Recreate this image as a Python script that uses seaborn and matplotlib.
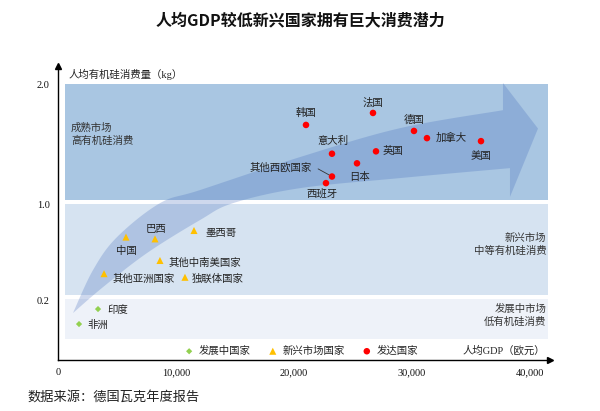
import numpy as np
import pandas as pd
import matplotlib
matplotlib.use("Agg")
import matplotlib.pyplot as plt
from matplotlib.patches import Polygon, Rectangle
import seaborn as sns

# ---------------- data ----------------
dev_names = ["印度", "非洲"]
dev_gdp = [3390, 1780]
dev_cons = [0.125, 0.0]

emg_names = ["中国", "巴西", "墨西哥", "其他中南美国家", "其他亚洲国家", "独联体国家"]
emg_gdp = [5760, 8220, 11525, 8640, 3900, 10760]
emg_cons = [0.725, 0.71, 0.78, 0.53, 0.42, 0.39]

adv_names = ["韩国", "法国", "德国", "加拿大", "美国", "意大利", "英国", "日本", "其他西欧国家", "西班牙"]
adv_gdp = [21017, 26695, 30170, 31270, 35850, 23220, 26950, 25340, 23220, 22710]
adv_cons = [1.66, 1.76, 1.61, 1.55, 1.525, 1.42, 1.44, 1.34, 1.23, 1.175]

group_names = ["发展中国家", "新兴市场国家", "发达国家"]
x_ticks = [0, 10000, 20000, 30000, 40000]
x_tick_labels = ["0", "10,000", "20,000", "30,000", "40,000"]
y_ticks = [2.0, 1.0, 0.2]
y_tick_labels = ["2.0", "1.0", "0.2"]

# ---------------- layout / style ----------------
CJK = ["Liberation Serif", "Noto Sans CJK SC", "DejaVu Sans"]
sns.set_theme(style="white")
plt.rcParams["font.family"] = CJK

palette = {"发展中国家": "#92d050", "新兴市场国家": "#ffc000", "发达国家": "#ff0000"}
markers = {"发展中国家": "D", "新兴市场国家": "^", "发达国家": "o"}
msize = {"发展中国家": 10, "新兴市场国家": 26, "发达国家": 22}

# label offsets in points (dx, dy, ha)
offsets = {
    "印度": (7, -1, "left"), "非洲": (6, -1, "left"),
    "中国": (0, -10, "center"), "巴西": (1, 7, "center"), "墨西哥": (8, -2, "left"),
    "其他中南美国家": (6, -1.5, "left"), "其他亚洲国家": (6, -3.5, "left"), "独联体国家": (5, -1, "left"),
    "韩国": (0, 9, "center"), "法国": (0, 7.5, "center"), "德国": (0, 8, "center"),
    "加拿大": (6.5, 0, "left"), "美国": (0, -11, "center"), "意大利": (0.5, 9.5, "center"),
    "英国": (4.5, 0, "left"), "日本": (1.5, -9.5, "center"), "其他西欧国家": (-14.5, 6.5, "right"),
    "西班牙": (-3, -7.5, "center"),
}

df = pd.concat([
    pd.DataFrame({"name": dev_names, "gdp": dev_gdp, "cons": dev_cons, "group": group_names[0]}),
    pd.DataFrame({"name": emg_names, "gdp": emg_gdp, "cons": emg_cons, "group": group_names[1]}),
    pd.DataFrame({"name": adv_names, "gdp": adv_gdp, "cons": adv_cons, "group": group_names[2]}),
], ignore_index=True)

fig = plt.figure(figsize=(6, 4.11), dpi=100)
ax = fig.add_axes([0.0967, 0.124, 0.82, 0.715])
ax.set_xlim(0, 41700)
ax.set_ylim(-0.3, 2.15)

# background bands
band_x0, band_x1 = 590, 41525
bands = [(1.033, 2.0, "#a9c6e2"), (0.242, 1.0, "#d6e3f1"), (-0.125, 0.208, "#eef2f9")]
for y0, y1, c in bands:
    ax.add_patch(Rectangle((band_x0, y0), band_x1 - band_x0, y1 - y0, facecolor=c,
                           edgecolor="none", zorder=0))


# curved growth arrow (decoration): smooth outline via Catmull-Rom
def catmull(pts, n=20):
    pts = np.asarray(pts, float)
    p = np.vstack([pts[0], pts, pts[-1]])
    out = []
    for i in range(1, len(p) - 2):
        p0, p1, p2, p3 = p[i - 1], p[i], p[i + 1], p[i + 2]
        t = np.linspace(0, 1, n, endpoint=False)[:, None]
        out.append(0.5 * ((2 * p1) + (-p0 + p2) * t + (2 * p0 - 5 * p1 + 4 * p2 - p3) * t ** 2
                          + (-p0 + 3 * p1 - 3 * p2 + p3) * t ** 3))
    out.append(pts[-1][None, :])
    return np.vstack(out)


upper = [(1270, 0.092), (2966, 0.45), (5000, 0.725), (8644, 1.008), (12034, 1.117),
         (20508, 1.392), (28983, 1.633), (37712, 1.783)]
lower = [(1270, 0.092), (3814, 0.308), (7542, 0.592), (12034, 0.867), (14830, 1.008),
         (20508, 1.133), (28983, 1.217), (38305, 1.30)]
head = [(37712, 2.01), (40680, 1.63), (38305, 1.06)]
outline = np.vstack([catmull(upper), np.array(head), catmull(lower)[::-1]])
ax.add_patch(Polygon(outline, closed=True, facecolor=(60 / 255, 100 / 255, 185 / 255, 0.25),
                     edgecolor="none", zorder=1))

# band texts
txt_kw = dict(fontsize=7.5, color="#333333", linespacing=1.35)
ax.text(1100, 1.58, "成熟市场\n高有机硅消费", ha="left", va="center", **txt_kw)
ax.text(41400, 0.665, "新兴市场\n中等有机硅消费", ha="right", va="center", **txt_kw)
ax.text(41400, 0.075, "发展中市场\n低有机硅消费", ha="right", va="center", **txt_kw)

# points
for g in group_names:
    sub = df[df["group"] == g]
    sns.scatterplot(data=sub, x="gdp", y="cons", ax=ax, color=palette[g], marker=markers[g],
                    s=msize[g], edgecolor="none", linewidth=0, label=g, legend=False, zorder=3)

for _, r in df.iterrows():
    dx, dy, ha = offsets[r["name"]]
    ax.annotate(r["name"], (r["gdp"], r["cons"]), xytext=(dx, dy), textcoords="offset points",
                ha=ha, va="center", fontsize=7.5, color="#222222", zorder=4)

# leader line for 其他西欧国家
idx = adv_names.index("其他西欧国家")
ax.annotate("", (adv_gdp[idx], adv_cons[idx]), xytext=(-10, 5.5), textcoords="offset points",
            arrowprops=dict(arrowstyle="-", color="#333333", lw=0.6, shrinkA=0, shrinkB=2.5))

# axes styling
for s in ["top", "right"]:
    ax.spines[s].set_visible(False)
for s in ["left", "bottom"]:
    ax.spines[s].set_color("black")
    ax.spines[s].set_linewidth(1.0)
ax.plot(1, 0, marker=">", color="black", markersize=5, transform=ax.transAxes, clip_on=False)
ax.plot(0, 1, marker="^", color="black", markersize=5, transform=ax.transAxes, clip_on=False)

ax.set_xticks(x_ticks)
ax.set_xticklabels(x_tick_labels, fontsize=7.5)
ax.set_yticks(y_ticks)
ax.set_yticklabels(y_tick_labels, fontsize=7.5)
ax.tick_params(axis="both", length=0, pad=6, colors="#111111")
ax.set_xlabel("")
ax.set_ylabel("")

ax.text(0.022, 0.973, "人均有机硅消费量（kg）", transform=ax.transAxes, ha="left", va="center",
        fontsize=7.5, color="#222222")
ax.text(0.99, 0.031, "人均GDP（欧元）", transform=ax.transAxes, ha="right", va="center",
        fontsize=7.5, color="#222222")

leg = ax.legend(loc="center", bbox_to_anchor=(0.494, 0.031), ncol=3, frameon=False,
                fontsize=7.5, handlelength=1.0, handletextpad=0.45, columnspacing=1.6,
                markerscale=1.0, borderaxespad=0, borderpad=0)
for t in leg.get_texts():
    t.set_color("#222222")

fig.text(0.5, 0.951, "人均GDP较低新兴国家拥有巨大消费潜力", ha="center", va="center",
         fontsize=11.5, fontweight="bold", family=["Noto Sans CJK SC", "DejaVu Sans"], color="#111111")
fig.text(0.045, 0.034, "数据来源：德国瓦克年度报告", ha="left", va="center",
         fontsize=9.5, color="#222222")

fig.savefig("out.png", dpi=100)
